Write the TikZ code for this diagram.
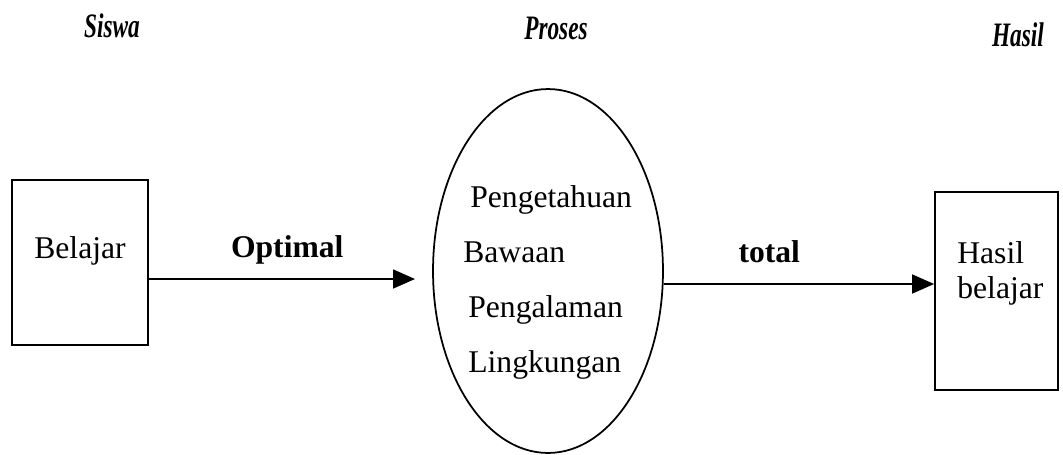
\documentclass[tikz,border=0pt]{standalone}
\usepackage{fontspec}
\usepackage{graphicx}
\setmainfont{Liberation Serif}
\usetikzlibrary{arrows.meta,shapes.geometric}

\begin{document}
\begin{tikzpicture}[x=0.02cm, y=-0.02cm,
        txt/.style={font=\fontsize{18}{21}\selectfont, inner sep=0pt},
        heading/.style={font=\fontsize{19.5}{22}\selectfont\bfseries\itshape, inner sep=0pt, anchor=base},
        boxed/.style={draw, line width=1pt, rectangle, inner sep=0pt},
        arrow/.style={line width=1pt, -{Triangle[length=0.44cm, width=0.38cm]}},
        lbl/.style={font=\fontsize{18}{21}\selectfont\bfseries, text depth=0pt, above=8.6pt}]
        \useasboundingbox (0,0) rectangle (1063,454);
        % headings
        \node [heading] (siswa) at (112,37) {\scalebox{0.68}[1]{Siswa}};
        \node [heading] (proseshead) at (556,39) {\scalebox{0.68}[1]{Proses}};
        \node [heading] (hasilhead) at (1018,46) {\scalebox{0.68}[1]{Hasil}};
        % boxes and ellipse
        \node [boxed, minimum width=2.72cm, minimum height=3.3cm] (belajar) at (80,262.5) {};
        \node [txt, anchor=base] (belajartxt) at (80,258) {Belajar};
        \node [draw, line width=1pt, ellipse, inner sep=0pt, minimum width=4.6cm,
            minimum height=7.28cm] (proses) at (548,271) {};
        \node [txt, anchor=base west] (tahu) at (470,207) {Pengetahuan};
        \node [txt, anchor=base west] (bawaan) at (463,262) {Bawaan};
        \node [txt, anchor=base west] (alam) at (468,317) {Pengalaman};
        \node [txt, anchor=base west] (lingk) at (468,372) {Lingkungan};
        \node [boxed, minimum width=2.46cm, minimum height=3.96cm] (hasil) at (996.5,291) {};
        \node [txt, anchor=base west] (hasiltxt) at (957,263) {Hasil};
        \node [txt, anchor=base west] (belajartxt2) at (957,298) {belajar};
        % connectors
        \coordinate (tip1) at (415,279);
        \coordinate (tip2) at (hasil.west |- 0,284);
        \draw [arrow] (belajar.east |- tip1) -- (tip1) node[lbl, pos=0.52] (optimal) {Optimal};
        \draw [arrow] (proses.east |- tip2) -- (tip2) node[lbl, pos=0.39] (total) {total};
    \end{tikzpicture}
\end{document}
